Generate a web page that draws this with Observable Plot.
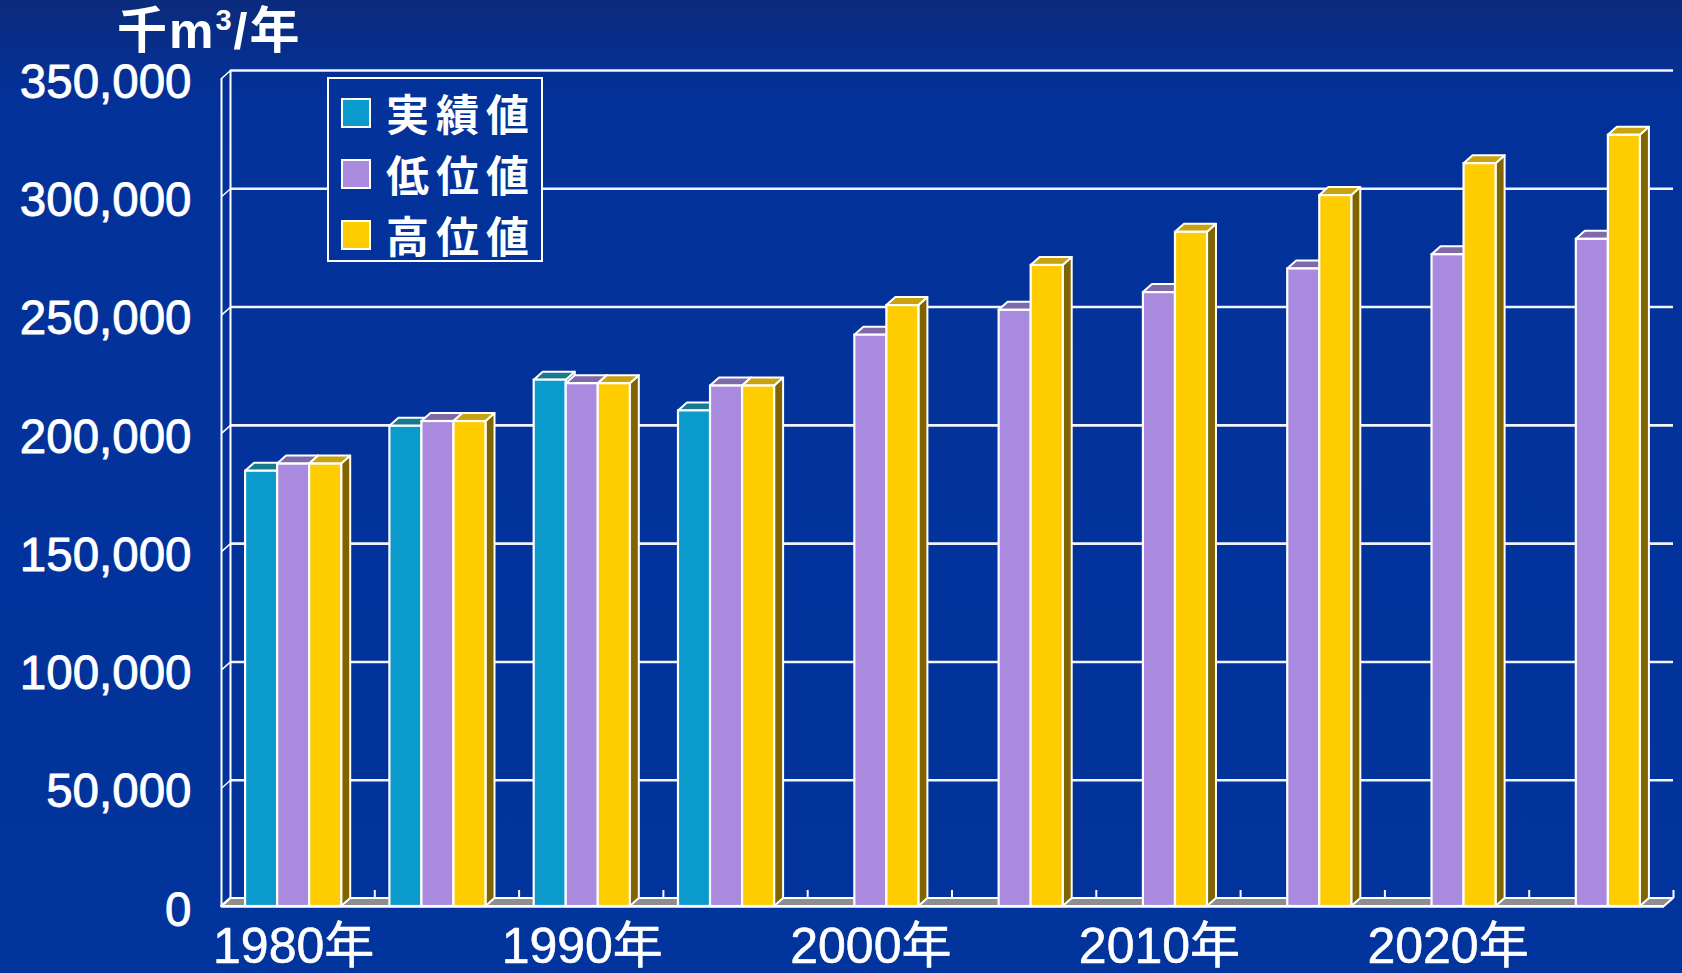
<!DOCTYPE html>
<html><head><meta charset="utf-8">
<script src="https://cdn.jsdelivr.net/npm/d3@7"></script>
<script src="https://cdn.jsdelivr.net/npm/@observablehq/plot@0.6"></script>
<style>
html,body{margin:0;padding:0;}
body{width:1682px;height:973px;overflow:hidden;position:relative;
  background:linear-gradient(180deg,#0b2b7c 0%,#03319a 10%,#01349c 100%);
  font-family:'Liberation Sans','Noto Sans CJK JP',sans-serif;}
#chart{position:absolute;left:0;top:0;}
#title{position:absolute;left:117px;top:6px;color:#fff;font-size:50px;font-weight:bold;line-height:1;white-space:nowrap;letter-spacing:2px;font-family:'Liberation Sans','Noto Sans CJK JP',sans-serif;}
#title sup{font-size:29px;vertical-align:top;position:relative;top:0px;}
#legend{position:absolute;left:327px;top:77px;width:212px;height:181px;border:2.5px solid #fff;background:#03329b;}
.row{position:absolute;left:12px;height:50px;display:flex;align-items:center;}
.sw{width:26px;height:26px;border:2px solid #fff;margin-right:15px;}
.lab{color:#fff;font-family:'Noto Sans CJK JP',sans-serif;font-weight:bold;font-size:43px;letter-spacing:7px;line-height:1;}
</style>
</head><body>
<div id="chart"></div>
<div id="title">千m<sup>3</sup>/年</div>
<div id="legend"></div>
<script>
const years = ["1980","1985","1990","1995","2000","2005","2010","2015","2020","2025"];
const actual = [184000, 203000, 222500, 209500, null, null, null, null, null, null];
const low    = [187000, 205000, 221000, 220000, 241500, 252000, 259500, 269500, 275500, 282000];
const high   = [187000, 205000, 221000, 220000, 254000, 271000, 285000, 300500, 314000, 326000];
const seriesNames = ["実績値", "低位値", "高位値"];
const yTicks = [0, 50000, 100000, 150000, 200000, 250000, 300000, 350000];
const xTickIndex = [0, 2, 4, 6, 8];

const seriesValues = [actual, low, high];
const frontColors = ["#0a9acb", "#a98ade", "#ffcc00"];
const topColors   = ["#177a8f", "#7e6aa8", "#c9a210"];
const sideColors  = ["#0b6e8c", "#6f5a98", "#806400"];

// 3D depth in data units
const W = 0.222, DX = 9 / 144.3, DY = 8 / 118.3 * 50000;
const white = "#ffffff";
const marks = [];

// floor
marks.push(Plot.areaX([{y: 0, x1: -0.5, x2: 9.5}, {y: DY, x1: -0.5 + DX, x2: 9.5 + DX}],
  {y: "y", x1: "x1", x2: "x2", fill: "#8e8e8e", stroke: white, strokeWidth: 2}));
// back-wall gridlines
marks.push(Plot.ruleY(yTicks.filter(v => v > 0), {y: v => v + DY, x1: -0.5 + DX, x2: 9.5 + DX, stroke: "#f4f4ff", strokeWidth: 2.6}));
// left wall
marks.push(Plot.ruleX([-0.5], {y1: 0, y2: 350000, stroke: white, strokeWidth: 2}));
marks.push(Plot.ruleX([-0.5 + DX], {y1: DY, y2: 350000 + DY, stroke: white, strokeWidth: 2}));
marks.push(Plot.link(yTicks, {x1: -0.5, y1: v => v, x2: -0.5 + DX, y2: v => v + DY, stroke: white, strokeWidth: 1.5}));
// floor ticks
marks.push(Plot.ruleX(years.map((_, i) => i + 0.5), {x: d => d + DX, y1: DY, y2: DY * 2, stroke: white, strokeWidth: 2}));

// bars
seriesValues.forEach((vals, k) => {
  const bars = [];
  vals.forEach((v, i) => { if (v != null) bars.push({id: i, v, x1: i + (k - 1.5) * W, x2: i + (k - 0.5) * W}); });
  const side = bars.flatMap(b => [{id: b.id, x: b.x2, y1: 0, y2: b.v}, {id: b.id, x: b.x2 + DX, y1: DY, y2: b.v + DY}]);
  const top = bars.flatMap(b => [{id: b.id, y: b.v, x1: b.x1, x2: b.x2}, {id: b.id, y: b.v + DY, x1: b.x1 + DX, x2: b.x2 + DX}]);
  marks.push(Plot.areaY(side, {x: "x", y1: "y1", y2: "y2", z: "id", fill: sideColors[k], stroke: white, strokeWidth: 2, strokeLinejoin: "round"}));
  marks.push(Plot.areaX(top, {y: "y", x1: "x1", x2: "x2", z: "id", fill: topColors[k], stroke: white, strokeWidth: 2, strokeLinejoin: "round"}));
  marks.push(Plot.rect(bars, {x1: "x1", x2: "x2", y1: 0, y2: "v", fill: frontColors[k], stroke: white, strokeWidth: 2.2}));
});

// front baseline
marks.push(Plot.ruleY([0], {x1: -0.5, x2: 9.5, stroke: white, strokeWidth: 2.5}));

// axes
marks.push(Plot.axisY(yTicks, {tickSize: 0, tickPadding: 30, tickFormat: d3.format(","), fontSize: 47.5, dy: 4, label: null,
  textStroke: "white", textStrokeWidth: 0.9,
  fontFamily: "'Liberation Sans', Arial, sans-serif"}));
marks.push(Plot.axisX(xTickIndex, {tickSize: 0, tickPadding: 21, tickFormat: i => years[i] + "年", fontSize: 50, label: null,
  textStroke: "white", textStrokeWidth: 0.6,
  fontFamily: "'Liberation Sans', 'Noto Sans CJK JP', sans-serif"}));

const chart = Plot.plot({
  width: 1682, height: 973,
  marginLeft: 221, marginRight: 18, marginTop: 78, marginBottom: 67,
  x: {type: "linear", domain: [-0.5, 9.5]},
  y: {type: "linear", domain: [0, 350000]},
  style: {background: "transparent", color: "white", fontFamily: "'Liberation Sans', 'Noto Sans CJK JP', sans-serif", overflow: "visible"},
  marks
});
document.getElementById("chart").appendChild(chart);

// legend
const legend = document.getElementById("legend");
const centers = [33.5, 94.5, 155.5];
seriesNames.forEach((name, k) => {
  const row = document.createElement("div");
  row.className = "row";
  row.style.top = (centers[k] - 25) + "px";
  row.innerHTML = `<div class="sw" style="background:${frontColors[k]}"></div><span class="lab">${name}</span>`;
  legend.appendChild(row);
});
</script>
</body></html>
